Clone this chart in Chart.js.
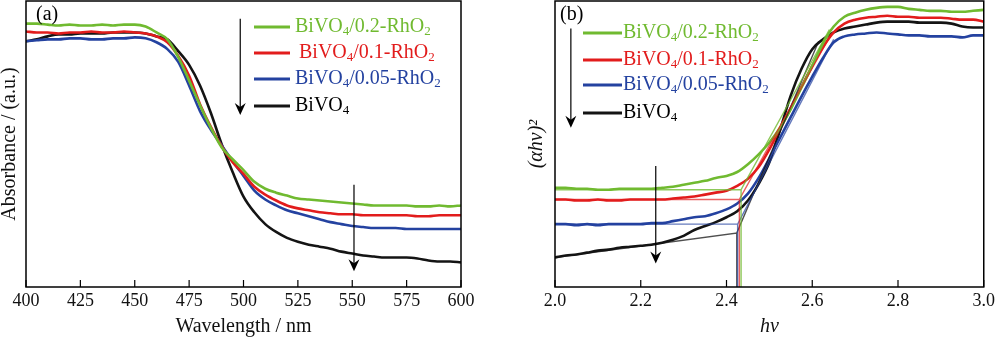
<!DOCTYPE html>
<html>
<head>
<meta charset="utf-8">
<script src="https://cdn.jsdelivr.net/npm/chart.js@4"></script>
<style>
  body { margin: 0; background: #fff; }
  #wrap { position: relative; width: 1000px; height: 339px; }
  canvas { position: absolute; top: 0; }
</style>
</head>
<body>
<div id="wrap">
  <canvas id="chartA" width="500" height="339" style="left:0"></canvas>
  <canvas id="chartB" width="500" height="339" style="left:500px"></canvas>
</div>
<script>
// ---- data (a): absorbance vs wavelength, arbitrary units ----
const wavelength = [400,405,410,415,420,425,430,435,440,445,450,455,460,465,470,475,480,485,490,495,
  500,505,510,515,520,525,530,535,540,545,550,555,560,565,570,575,580,585,590,595,600];
const absRh02 = [268,268,267,266,267,266,266,267,266,267,267,265,259,252,234,210,185,162,142,130,
  119,107,100,96,93,90,89,88,87,86,85,84,83,83,83,83,82,82,83,82,83];
const absRh01 = [260,259,259,258,259,259,260,259,259,260,259,258,255,249,235,215,186,163,143,127,
  115,102,94,88,83,80,78,76,75,74,74,73,73,73,73,73,72,72,73,73,73];
const absRh005 = [250,251,252,252,253,253,252,252,253,253,254,253,249,242,229,205,179,160,144,128,
  113,98,89,83,78,75,72,69,66,64,62,61,60,60,60,59,59,59,59,59,59];
const absBiVO4 = [250,252,255,257,257,258,258,258,259,259,259,258,255,252,240,226,205,177,145,117,
  92,76,64,56,50,46,43,41,39,36,34,32,31,30,30,30,29,27,26,26,25];

// ---- data (b): (ahv)^2 vs photon energy ----
const energy = [2.000,2.025,2.050,2.075,2.100,2.125,2.150,2.175,2.200,2.225,2.250,2.275,2.300,2.325,2.350,
  2.375,2.400,2.425,2.450,2.475,2.500,2.525,2.550,2.575,2.600,2.625,2.650,2.675,2.700,2.725,2.750,
  2.775,2.800,2.825,2.850,2.875,2.900,2.925,2.950,2.975,3.000];
const taucRh02 = [101,101,100,100,99,99,100,100,100,100,101,102,104,106,108,111,113,117,125,135,
  147,162,181,203,225,248,265,275,279,282,284,285,285,283,282,281,281,280,280,281,282];
const taucRh01 = [89,89,88,88,89,88,88,89,89,89,89,90,91,92,94,96,98,103,110,122,
  140,161,182,204,225,244,259,268,272,274,275,276,275,275,274,274,274,273,272,272,270];
const taucRh005 = [64,64,63,64,63,64,64,64,64,65,65,67,69,71,72,75,79,85,95,111,
  131,152,173,194,214,233,249,255,257,258,259,258,257,256,256,255,255,255,254,256,256];
const taucBiVO4 = [30,32,33,35,37,38,40,41,42,43,45,48,52,58,62,66,71,77,88,105,
  127,160,195,222,242,252,259,263,265,267,269,270,270,270,269,269,269,268,265,264,264];

// band-gap construction lines: baseline at 2.0, baseline at edge, edge energy, tangent end
const guideStart = [99, 89, 64, 30];
const guideBase = [99, 89, 64, 55];
const guideEdge = [2.434, 2.430, 2.426, 2.424];
const tangentEndX = [2.64, 2.645, 2.65, 2.615];
const tangentEndY = [262, 258, 252, 250];

const seriesNames = ["BiVO4/0.2-RhO2", "BiVO4/0.1-RhO2", "BiVO4/0.05-RhO2", "BiVO4"];
const seriesColors = ["rgb(112,186,48)", "rgb(226,28,28)", "rgb(36,66,160)", "rgb(20,20,20)"];
const guideColors = ["rgba(112,186,48,0.8)", "rgba(226,28,28,0.7)", "rgba(36,66,160,0.7)", "rgba(20,20,20,0.75)"];

const FONT = "'Liberation Serif', 'Times New Roman', serif";

function drawName(ctx, name, x, y, color) {
  // digits right after "O" are subscripts
  const parts = name.split(/(?<=O)(\d)/);
  ctx.fillStyle = color;
  ctx.textAlign = "left";
  ctx.textBaseline = "middle";
  parts.forEach((t, i) => {
    if (!t) return;
    const sub = i % 2 === 1;
    ctx.font = (sub ? "13px " : "20px ") + FONT;
    ctx.fillText(t, x, y + (sub ? 5 : 0));
    x += ctx.measureText(t).width;
  });
}

function drawArrow(ctx, x, y0, y1) {
  ctx.strokeStyle = "#000";
  ctx.fillStyle = "#000";
  ctx.lineWidth = 1.2;
  ctx.beginPath();
  ctx.moveTo(x, y0);
  ctx.lineTo(x, y1 - 6);
  ctx.stroke();
  ctx.beginPath();
  ctx.moveTo(x, y1);
  ctx.lineTo(x - 5.5, y1 - 12);
  ctx.lineTo(x, y1 - 8);
  ctx.lineTo(x + 5.5, y1 - 12);
  ctx.closePath();
  ctx.fill();
}

// box, inward ticks, legend, arrows and panel letter
const decor = {
  id: "decor",
  afterDraw(chart, args, opts) {
    const { ctx, chartArea: a, scales } = chart;
    ctx.save();
    ctx.strokeStyle = "#000";
    ctx.lineWidth = 1.5;
    ctx.strokeRect(a.left, a.top, a.right - a.left, a.bottom - a.top);
    ctx.lineWidth = 1.2;
    scales.x.ticks.forEach((t) => {
      const px = scales.x.getPixelForValue(t.value);
      ctx.beginPath();
      ctx.moveTo(px, a.bottom);
      ctx.lineTo(px, a.bottom - 7);
      ctx.stroke();
    });
    opts.arrows.forEach((ar) => {
      drawArrow(ctx, scales.x.getPixelForValue(ar[0]),
        scales.y.getPixelForValue(ar[1]), scales.y.getPixelForValue(ar[2]));
    });
    opts.rows.forEach((ry, i) => {
      ctx.strokeStyle = seriesColors[i];
      ctx.lineWidth = 3;
      ctx.beginPath();
      ctx.moveTo(opts.lineX[0], ry);
      ctx.lineTo(opts.lineX[1], ry);
      ctx.stroke();
      drawName(ctx, seriesNames[i], opts.textX[i], ry, i === 3 ? "#000" : seriesColors[i]);
    });
    ctx.fillStyle = "#000";
    ctx.font = "20px " + FONT;
    ctx.textAlign = "left";
    ctx.textBaseline = "middle";
    ctx.fillText(opts.letter, opts.letterX, 15);
    ctx.restore();
  }
};

function curve(xs, ys, i) {
  return {
    data: xs.map((x, k) => ({ x: x, y: ys[k] })),
    borderColor: seriesColors[i],
    borderWidth: 2.6,
    pointRadius: 0,
    cubicInterpolationMode: "monotone",
  };
}

function axisX(min, max, step, title, italic, decimals) {
  return {
    type: "linear", min: min, max: max,
    grid: { display: false, drawTicks: false }, border: { display: false },
    ticks: {
      stepSize: step, padding: 5, color: "#111", maxRotation: 0, autoSkip: false,
      font: { family: FONT, size: 18, lineHeight: 1 },
      callback: (v) => v.toFixed(decimals),
    },
    title: {
      display: true, text: title, color: "#111",
      font: { family: FONT, size: 20, lineHeight: 1, style: italic ? "italic" : "normal" },
      padding: { top: 2, bottom: 2 },
    },
  };
}

function axisY(title, italic, pad) {
  return {
    min: 0, max: 291,
    grid: { display: false, drawTicks: false }, border: { display: false },
    ticks: { display: false },
    title: {
      display: true, text: title, color: "#111",
      font: { family: FONT, size: 20, lineHeight: 1, style: italic ? "italic" : "normal" },
      padding: { top: 0, bottom: pad },
    },
  };
}

new Chart(document.getElementById("chartA").getContext("2d"), {
  type: "line",
  data: {
    datasets: [absRh02, absRh01, absRh005, absBiVO4].map((ys, i) => curve(wavelength, ys, i)),
  },
  options: {
    responsive: false,
    animation: false,
    layout: { padding: { top: 1, right: 39, bottom: 0, left: 0 } },
    scales: {
      x: axisX(400, 600, 25, "Wavelength / nm", false, 0),
      y: axisY("Absorbance / (a.u.)", false, 6),
    },
    plugins: {
      legend: { display: false },
      tooltip: { enabled: false },
      decor: {
        arrows: [[498.5, 273, 175], [550.8, 104, 16]],
        rows: [27, 53, 79, 106],
        lineX: [254, 290],
        textX: [295, 299, 295, 295],
        letter: "(a)", letterX: 36,
      },
    },
  },
  plugins: [decor],
});

const guides = guideEdge.map((e, i) => ({
  data: [
    { x: 2.0, y: guideStart[i] }, { x: e, y: guideBase[i] }, { x: e, y: 0 },
    { x: e, y: guideBase[i] }, { x: tangentEndX[i], y: tangentEndY[i] },
  ],
  borderColor: guideColors[i],
  borderWidth: 1.4,
  pointRadius: 0,
  tension: 0,
}));

new Chart(document.getElementById("chartB").getContext("2d"), {
  type: "line",
  data: {
    datasets: guides.concat([taucRh02, taucRh01, taucRh005, taucBiVO4].map((ys, i) => curve(energy, ys, i))),
  },
  options: {
    responsive: false,
    animation: false,
    layout: { padding: { top: 1, right: 11, bottom: 0, left: 27 } },
    scales: {
      x: axisX(2.0, 3.0, 0.2, "hν", true, 1),
      y: axisY("(αhν)²", true, 8),
    },
    plugins: {
      legend: { display: false },
      tooltip: { enabled: false },
      decor: {
        arrows: [[2.037, 263, 162], [2.235, 123, 24]],
        rows: [33, 60, 85, 113],
        lineX: [83, 122],
        textX: [123, 123, 123, 123],
        letter: "(b)", letterX: 60,
      },
    },
  },
  plugins: [decor],
});
</script>
</body>
</html>
